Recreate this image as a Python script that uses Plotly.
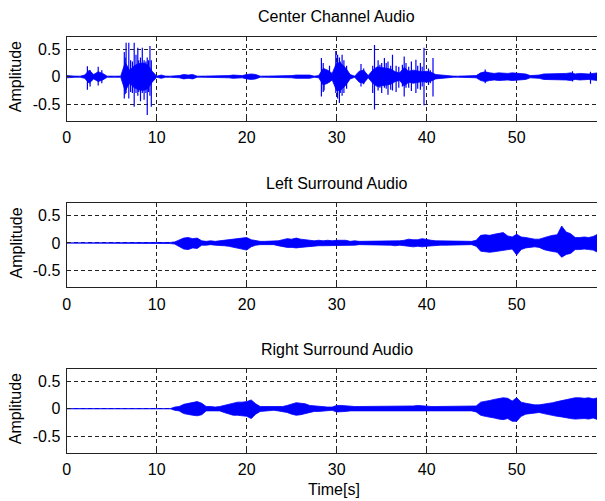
import plotly.graph_objects as go

# ---------------- data ----------------
T_STEP = 0.5  # seconds between envelope samples

# Center channel: symmetric envelope (peak |amplitude|) every 0.5 s, t = 0 ... 60
center_env = [
    0.02, 0.01, 0.01, 0.01, 0.03, 0.12, 0.04, 0.09, 0.06, 0.01,   # 0 - 4.5
    0.01, 0.01, 0.01, 0.26, 0.12, 0.20, 0.24, 0.25, 0.22, 0.10,   # 5 - 9.5
    0.01, 0.03, 0.01, 0.01, 0.01, 0.02, 0.04, 0.03, 0.04, 0.01,   # 10 - 14.5
    0.01, 0.01, 0.01, 0.01, 0.02, 0.02, 0.02, 0.03, 0.02, 0.02,   # 15 - 19.5
    0.04, 0.05, 0.04, 0.01, 0.01, 0.01, 0.01, 0.01, 0.01, 0.01,   # 20 - 24.5
    0.02, 0.03, 0.03, 0.04, 0.03, 0.01, 0.02, 0.15, 0.12, 0.06,   # 25 - 29.5
    0.26, 0.24, 0.16, 0.04, 0.01, 0.10, 0.12, 0.02, 0.12, 0.18,   # 30 - 34.5
    0.17, 0.15, 0.14, 0.09, 0.07, 0.17, 0.10, 0.12, 0.10, 0.09,   # 35 - 39.5
    0.10, 0.08, 0.04, 0.03, 0.02, 0.01, 0.01, 0.01, 0.01, 0.01,   # 40 - 44.5
    0.01, 0.02, 0.07, 0.09, 0.07, 0.06, 0.07, 0.06, 0.06, 0.07,   # 45 - 49.5
    0.06, 0.06, 0.05, 0.02, 0.02, 0.03, 0.05, 0.05, 0.06, 0.05,   # 50 - 54.5
    0.06, 0.06, 0.07, 0.05, 0.06, 0.05, 0.05, 0.06, 0.07, 0.06,   # 55 - 59.5
    0.06,                                                         # 60
]

# Center channel: individual tall spikes (time [s], positive peak, negative peak)
spike_t = [2.3, 2.6, 3.5, 3.9, 6.4, 6.6, 6.9, 7.5, 7.7, 7.9, 8.2, 8.4, 8.6, 8.95,
           9.25, 9.4, 28.3, 28.6, 29.2, 29.9, 30.1, 30.3, 30.6, 30.8, 32.7, 34.0,
           34.2, 34.6, 35.0, 35.3, 35.7, 36.2, 36.6, 37.5, 37.7, 38.3, 38.8, 39.3,
           39.7, 40.2, 40.7, 46.5, 56.2, 58.2,
           6.5, 7.1, 7.3, 8.0, 8.8, 9.1, 28.5, 30.4, 31.1, 33.0, 34.8, 35.5, 36.0,
           36.9, 37.3, 38.0, 39.0, 39.5, 40.4]
spike_hi = [0.19, 0.12, 0.18, 0.12, 0.45, 0.62, 0.62, 0.62, 0.40, 0.53, 0.35, 0.53,
            0.30, 0.35, 0.56, 0.30, 0.34, 0.15, 0.20, 0.47, 0.40, 0.35, 0.40, 0.30,
            0.23, 0.20, 0.58, 0.30, 0.25, 0.34, 0.28, 0.40, 0.20, 0.37, 0.25, 0.28,
            0.31, 0.25, 0.53, 0.15, 0.34, 0.13, 0.10, 0.09,
            0.35, 0.30, 0.28, 0.30, 0.28, 0.30, 0.25, 0.28, 0.20, 0.15, 0.22, 0.25,
            0.20, 0.18, 0.22, 0.18, 0.20, 0.18, 0.12]
spike_lo = [-0.24, -0.18, -0.16, -0.12, -0.40, -0.30, -0.40, -0.55, -0.30, -0.35,
            -0.45, -0.30, -0.42, -0.70, -0.35, -0.55, -0.36, -0.25, -0.10, -0.30,
            -0.40, -0.48, -0.35, -0.30, -0.18, -0.30, -0.60, -0.25, -0.30, -0.20,
            -0.33, -0.25, -0.28, -0.36, -0.20, -0.26, -0.30, -0.24, -0.52, -0.15,
            -0.36, -0.12, -0.09, -0.13,
            -0.32, -0.28, -0.30, -0.28, -0.30, -0.28, -0.28, -0.30, -0.22, -0.14,
            -0.20, -0.22, -0.24, -0.20, -0.18, -0.20, -0.22, -0.18, -0.12]

# Left surround: upper / lower envelope every 0.5 s
left_hi = [
    0, 0, 0, 0, 0, 0, 0, 0, 0, 0,
    0, 0, 0, 0, 0, 0, 0, 0, 0, 0,
    0, 0, 0, 0.01, 0.02, 0.05, 0.09, 0.10, 0.08, 0.09,
    0.04, 0.03, 0.04, 0.03, 0.04, 0.05, 0.05, 0.07, 0.07, 0.09,
    0.10, 0.06, 0.04, 0.03, 0.03, 0.03, 0.03, 0.04, 0.06, 0.08,
    0.07, 0.09, 0.07, 0.06, 0.06, 0.04, 0.05, 0.04, 0.05, 0.04,
    0.05, 0.05, 0.05, 0.03, 0.04, 0.03, 0.03, 0.03, 0.03, 0.04,
    0.04, 0.03, 0.04, 0.04, 0.04, 0.05, 0.07, 0.06, 0.06, 0.08,
    0.06, 0.05, 0.04, 0.04, 0.04, 0.04, 0.04, 0.04, 0.04, 0.04,
    0.03, 0.05, 0.14, 0.15, 0.14, 0.16, 0.17, 0.19, 0.13, 0.11,
    0.16, 0.11, 0.10, 0.08, 0.07, 0.07, 0.10, 0.12, 0.14, 0.15,
    0.31, 0.20, 0.17, 0.10, 0.10, 0.11, 0.10, 0.12, 0.16, 0.19,
    0.19,
]
left_lo = [
    0, 0, 0, 0, 0, 0, 0, 0, 0, 0,
    0, 0, 0, 0, 0, 0, 0, 0, 0, 0,
    0, 0, 0, -0.01, -0.02, -0.06, -0.11, -0.12, -0.09, -0.10,
    -0.04, -0.04, -0.03, -0.04, -0.04, -0.05, -0.06, -0.08, -0.09, -0.11,
    -0.13, -0.07, -0.04, -0.03, -0.03, -0.04, -0.03, -0.05, -0.07, -0.08,
    -0.08, -0.09, -0.08, -0.07, -0.06, -0.05, -0.05, -0.05, -0.05, -0.04,
    -0.05, -0.05, -0.05, -0.04, -0.04, -0.03, -0.03, -0.04, -0.03, -0.04,
    -0.04, -0.04, -0.04, -0.05, -0.04, -0.05, -0.06, -0.07, -0.06, -0.07,
    -0.06, -0.05, -0.04, -0.04, -0.04, -0.04, -0.04, -0.04, -0.04, -0.04,
    -0.03, -0.06, -0.15, -0.16, -0.17, -0.16, -0.15, -0.14, -0.12, -0.11,
    -0.22, -0.12, -0.09, -0.08, -0.07, -0.08, -0.12, -0.14, -0.16, -0.17,
    -0.26, -0.21, -0.19, -0.12, -0.12, -0.11, -0.12, -0.13, -0.17, -0.19,
    -0.19,
]

# Right surround: upper / lower envelope every 0.5 s
right_hi = [
    0, 0, 0, 0, 0, 0, 0, 0, 0, 0,
    0, 0, 0, 0, 0, 0, 0, 0, 0, 0,
    0, 0, 0, 0, 0.03, 0.04, 0.08, 0.10, 0.11, 0.13,
    0.10, 0.04, 0.04, 0.03, 0.04, 0.06, 0.08, 0.11, 0.12, 0.12,
    0.13, 0.16, 0.09, 0.04, 0.04, 0.03, 0.04, 0.03, 0.04, 0.06,
    0.09, 0.11, 0.10, 0.09, 0.06, 0.05, 0.05, 0.04, 0.03, 0.03,
    0.06, 0.06, 0.05, 0.04, 0.04, 0.04, 0.04, 0.05, 0.04, 0.04,
    0.04, 0.05, 0.04, 0.04, 0.04, 0.04, 0.05, 0.05, 0.06, 0.05,
    0.05, 0.04, 0.04, 0.04, 0.04, 0.04, 0.04, 0.04, 0.05, 0.04,
    0.04, 0.05, 0.12, 0.13, 0.15, 0.17, 0.19, 0.20, 0.19, 0.14,
    0.20, 0.12, 0.10, 0.08, 0.07, 0.07, 0.08, 0.10, 0.11, 0.13,
    0.15, 0.16, 0.18, 0.20, 0.20, 0.19, 0.20, 0.18, 0.20, 0.23,
    0.23,
]
right_lo = [
    0, 0, 0, 0, 0, 0, 0, 0, 0, 0,
    0, 0, 0, 0, 0, 0, 0, 0, 0, 0,
    0, 0, 0, 0, -0.03, -0.04, -0.09, -0.11, -0.12, -0.13,
    -0.11, -0.04, -0.04, -0.04, -0.04, -0.07, -0.10, -0.12, -0.12, -0.13,
    -0.14, -0.18, -0.10, -0.05, -0.04, -0.04, -0.03, -0.04, -0.05, -0.07,
    -0.10, -0.12, -0.11, -0.09, -0.07, -0.05, -0.05, -0.04, -0.04, -0.03,
    -0.06, -0.06, -0.05, -0.04, -0.04, -0.04, -0.05, -0.05, -0.04, -0.04,
    -0.05, -0.04, -0.04, -0.04, -0.04, -0.05, -0.05, -0.05, -0.05, -0.05,
    -0.05, -0.04, -0.04, -0.04, -0.04, -0.04, -0.04, -0.04, -0.05, -0.04,
    -0.04, -0.06, -0.12, -0.14, -0.15, -0.17, -0.19, -0.20, -0.18, -0.23,
    -0.23, -0.14, -0.10, -0.09, -0.08, -0.07, -0.09, -0.11, -0.13, -0.14,
    -0.15, -0.17, -0.18, -0.19, -0.18, -0.18, -0.19, -0.17, -0.20, -0.23,
    -0.23,
]

titles = ["Center Channel Audio", "Left Surround Audio", "Right Surround Audio"]
x_ticks = [0, 10, 20, 30, 40, 50]
y_ticks = [-0.5, 0, 0.5]
y_tick_text = ["-0.5", "0", "0.5"]

# ---------------- figure ----------------
OFF = 8  # page body margin
W, H = 605 - OFF, 501 - OFF
BLUE = "#0000FF"
FONT = "Liberation Sans, Arial, sans-serif"
FS = 16

time = [i * T_STEP for i in range(len(center_env))]

fig = go.Figure()


def add_band(hi, lo, axis_idx):
    xa = "x" if axis_idx == 1 else f"x{axis_idx}"
    ya = "y" if axis_idx == 1 else f"y{axis_idx}"
    fig.add_trace(go.Scatter(x=time, y=lo, mode="lines", xaxis=xa, yaxis=ya,
                             line=dict(color=BLUE, width=0.8), showlegend=False,
                             hoverinfo="skip"))
    fig.add_trace(go.Scatter(x=time, y=hi, mode="lines", xaxis=xa, yaxis=ya,
                             line=dict(color=BLUE, width=0.8), fill="tonexty",
                             fillcolor=BLUE, showlegend=False, hoverinfo="skip"))


add_band(center_env, [-v for v in center_env], 1)
sx, sy = [], []
for t, h, l in zip(spike_t, spike_hi, spike_lo):
    sx += [t, t, None]
    sy += [l, h, None]
fig.add_trace(go.Scatter(x=sx, y=sy, mode="lines", xaxis="x", yaxis="y",
                         line=dict(color=BLUE, width=1.2), showlegend=False,
                         hoverinfo="skip"))
add_band(left_hi, left_lo, 2)
add_band(right_hi, right_lo, 3)

# pixel geometry (window coordinates, converted to figure coordinates)
left_px = 66.7 - OFF
zero_px = [76.7 - OFF, 243.0 - OFF, 408.7 - OFF]
px_per_unit = 54.7
y_range = [-0.81, 0.73]
x_range = [0, (W - left_px) / 9.0]

layout = dict(
    width=W, height=H,
    margin=dict(l=0, r=0, t=0, b=0),
    paper_bgcolor="white", plot_bgcolor="white",
    font=dict(family=FONT, size=FS, color="black"),
    showlegend=False,
)

annotations = []
for i in range(3):
    n = "" if i == 0 else str(i + 1)
    top_px = zero_px[i] - y_range[1] * px_per_unit
    bot_px = zero_px[i] - y_range[0] * px_per_unit
    dom = [1 - bot_px / H, 1 - top_px / H]
    layout["xaxis" + n] = dict(
        domain=[left_px / W, 1], range=x_range, anchor="y" + n,
        tickvals=x_ticks, ticks="inside", ticklen=4, tickcolor="#222",
        showline=True, linecolor="#222", linewidth=1.4, mirror="ticks",
        showgrid=True, gridcolor="#222", gridwidth=1, griddash="4px,3px",
        zeroline=False, automargin=False,
        tickfont=dict(family=FONT, size=FS, color="black"),
        ticklabelstandoff=2,
    )
    layout["yaxis" + n] = dict(
        domain=dom, range=y_range, anchor="x" + n,
        tickvals=y_ticks, ticktext=y_tick_text, ticks="inside", ticklen=4,
        tickcolor="#222",
        showline=True, linecolor="#222", linewidth=1.4, mirror=False,
        showgrid=True, gridcolor="#222", gridwidth=1, griddash="4px,3px",
        zeroline=False, automargin=False,
        tickfont=dict(family=FONT, size=FS, color="black"),
        ticklabelstandoff=2,
    )
    title_y = [16.5, 183.3, 349.5][i] - OFF
    annotations.append(dict(text=titles[i], x=(336.7 - OFF) / W, y=1 - title_y / H,
                            xref="paper", yref="paper", showarrow=False,
                            xanchor="center", yanchor="middle",
                            font=dict(family=FONT, size=FS, color="black")))
    annotations.append(dict(text="Amplitude", x=(15.5 - OFF) / W, y=1 - zero_px[i] / H,
                            xref="paper", yref="paper", showarrow=False,
                            textangle=-90, xanchor="center", yanchor="middle",
                            font=dict(family=FONT, size=FS, color="black")))

annotations.append(dict(text="Time[s]", x=(334 - OFF) / W, y=1 - (489.5 - OFF) / H,
                        xref="paper", yref="paper", showarrow=False,
                        xanchor="center", yanchor="middle",
                        font=dict(family=FONT, size=FS, color="black")))
layout["annotations"] = annotations

fig.update_layout(**layout)
fig.write_html("out.html")
